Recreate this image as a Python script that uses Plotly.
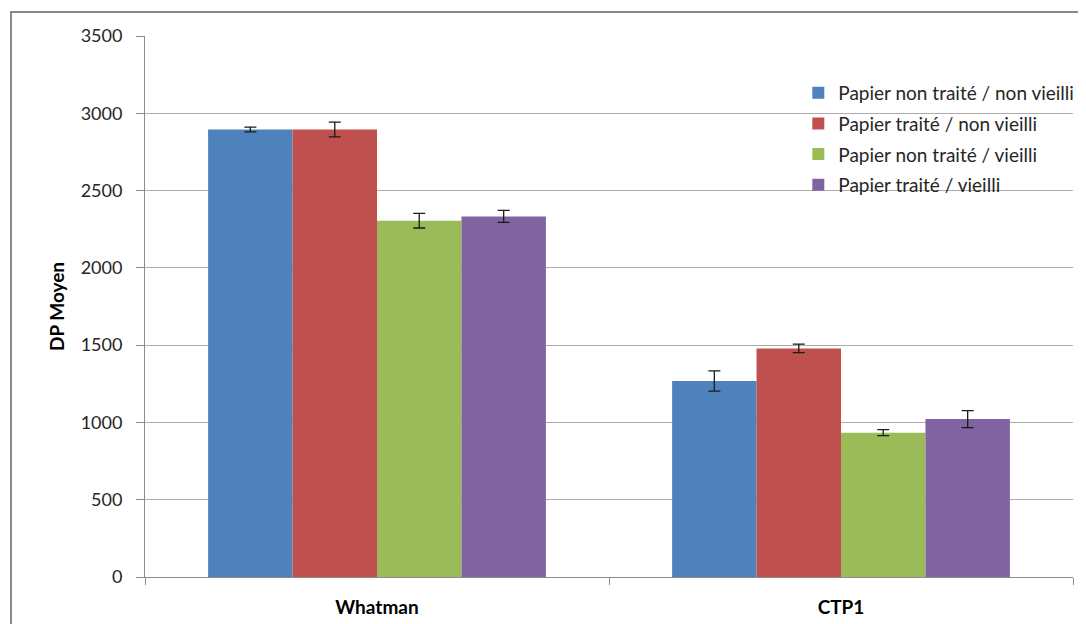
import plotly.graph_objects as go

categories = ["Whatman", "CTP1"]
series_names = [
    "Papier non traité / non vieilli",
    "Papier traité / non vieilli",
    "Papier non traité / vieilli",
    "Papier traité / vieilli",
]
values = [
    [2895, 1268],
    [2895, 1479],
    [2305, 934],
    [2333, 1022],
]
errors = [
    [15, 66],
    [48, 28],
    [47, 19],
    [39, 55],
]
colors = ["#4F81BD", "#C0504D", "#9BBB59", "#8064A2"]
y_ticks = [0, 500, 1000, 1500, 2000, 2500, 3000, 3500]

FONT = "Lato"

fig = go.Figure()
for i, name in enumerate(series_names):
    fig.add_trace(go.Bar(
        x=categories,
        y=values[i],
        name=name,
        legendgroup=f"g{i}",
        marker=dict(color=colors[i], line=dict(width=0)),
        error_y=dict(type="data", array=errors[i], visible=True,
                     color="#1a1a1a", thickness=1.3, width=6),
    ))

fig.update_layout(
    width=1086, height=624,
    margin=dict(l=137, r=21, t=28, b=55),
    paper_bgcolor="white", plot_bgcolor="white",
    barmode="group", bargap=0.272, bargroupgap=0,
    font=dict(family=FONT, color="#262626"),
    showlegend=True,
    legend=dict(
        x=0.704, y=0.93, xanchor="left", yanchor="top",
        font=dict(family=FONT, size=19, color="#262626"),
        tracegroupgap=3, bgcolor="rgba(0,0,0,0)",
    ),
)

fig.update_yaxes(
    range=[0, 3500], tickvals=y_ticks, ticktext=[str(v) for v in y_ticks],
    showgrid=True, gridcolor="#ababab", gridwidth=1,
    showline=True, linecolor="#8c8c8c", linewidth=1,
    ticks="outside", ticklen=8, tickcolor="#8c8c8c",
    tickfont=dict(family=FONT, size=18, color="#262626"),
    ticklabelstandoff=10,
    zeroline=False,
    title=dict(text="<b>DP Moyen</b>", font=dict(family=FONT, size=19, color="#000"), standoff=10),
)
fig.update_xaxes(
    type="category", tickson="boundaries",
    showline=True, linecolor="#8c8c8c", linewidth=1,
    ticks="outside", ticklen=7, tickcolor="#8c8c8c",
    tickfont=dict(family=FONT, size=19, color="#000"),
    tickvals=categories, ticktext=[f"<b>{c}</b>" for c in categories],
    ticklabelstandoff=13,
    showgrid=False,
)

# chart frame
fig.add_shape(type="rect", xref="paper", yref="paper",
              x0=-0.1444, x1=1.03, y0=-0.12, y1=1.0444,
              line=dict(color="#8a8a8a", width=2), fillcolor="rgba(0,0,0,0)", layer="below")

fig.write_html("out.html")
